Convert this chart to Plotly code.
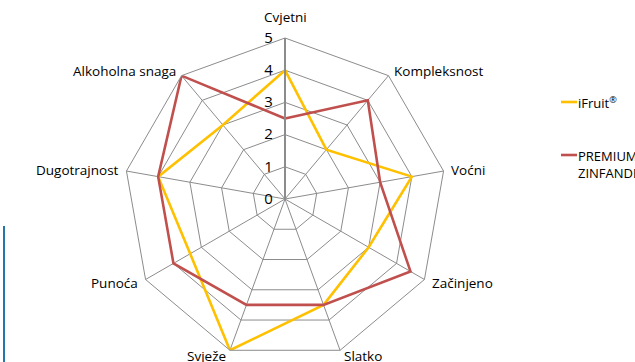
import math
import plotly.graph_objects as go

# Sensory attributes, clockwise from the top
attributes = ["Cvjetni", "Kompleksnost", "Voćni", "Začinjeno", "Slatko",
              "Svježe", "Punoća", "Dugotrajnost", "Alkoholna snaga"]

ifruit = [4, 2, 4, 3, 3.5, 5, 3.4, 4, 3]
premium_zinfandel = [2.5, 4, 3, 4.5, 3.5, 3.5, 4, 4, 5]

series_names = ["iFruit<sup>®</sup>", "PREMIUM<br>ZINFANDEL"]
series_values = [ifruit, premium_zinfandel]
series_colors = ["#FFC000", "#C0504D"]

radial_ticks = [0, 1, 2, 3, 4, 5]

FONT = "Open Sans"
GRID = "#8c8c8c"
W, H = 635, 362

fig = go.Figure()
for name, vals, col in zip(series_names, series_values, series_colors):
    fig.add_trace(go.Scatterpolar(
        r=vals + vals[:1],
        theta=attributes + attributes[:1],
        mode="lines",
        name=name,
        line=dict(color=col, width=2.6),
        showlegend=False,
    ))

# Legend drawn as short line samples with text next to them
legend_y = [102, 155]
for name, col, y in zip(series_names, series_colors, legend_y):
    two_line = "<br>" in name
    fig.add_shape(type="line", xref="paper", yref="paper",
                  x0=561 / W, x1=577 / W,
                  y0=1 - y / H, y1=1 - y / H,
                  line=dict(color=col, width=2.6))
    fig.add_annotation(xref="paper", yref="paper",
                       x=576 / W, y=1 - y / H,
                       xanchor="left", yanchor="top" if two_line else "middle",
                       yshift=10 if two_line else 0,
                       text=name, showarrow=False, align="left",
                       font=dict(family=FONT, size=13, color="#000"))

# Thin blue rule at the lower left edge
fig.add_shape(type="line", xref="paper", yref="paper",
              x0=4 / W, x1=4 / W, y0=0, y1=1 - 226 / H,
              line=dict(color="#2577a8", width=2))

# Polar area: centre and outer radius in pixels
cx, cy, R = 285, 199, 161

# Category labels placed just outside each spoke of the web
n = len(attributes)
for i, lab in enumerate(attributes):
    ang = math.radians(90 - i * 360 / n)
    c, s = math.cos(ang), math.sin(ang)
    top = abs(c) < 0.1
    d = 10 if top else 6
    px = cx + (R + d) * c
    py = cy - (R + d) * s
    fig.add_annotation(xref="paper", yref="paper",
                       x=px / W, y=1 - py / H,
                       xanchor="center" if top else ("left" if c > 0 else "right"),
                       yanchor="bottom" if top else "middle",
                       text=lab, showarrow=False,
                       font=dict(family=FONT, size=13.5, color="#000"))

fig.update_layout(
    width=W, height=H,
    margin=dict(l=0, r=0, t=0, b=0),
    paper_bgcolor="white", plot_bgcolor="white",
    font=dict(family=FONT, size=13, color="#000"),
    polar=dict(
        domain=dict(x=[(cx - R) / W, (cx + R) / W],
                    y=[(H - cy - R) / H, (H - cy + R) / H]),
        bgcolor="white",
        gridshape="linear",
        angularaxis=dict(
            rotation=90, direction="clockwise",
            showline=True, linecolor=GRID, linewidth=1,
            gridcolor=GRID, gridwidth=1,
            ticks="", showticklabels=False,
        ),
        radialaxis=dict(
            range=[0, 5], tickvals=radial_ticks, angle=90, tickangle=90,
            side="counterclockwise",
            showline=True, linecolor=GRID, linewidth=2,
            gridcolor=GRID, gridwidth=1,
            ticks="outside", ticklen=6, tickcolor="rgba(0,0,0,0)",
            tickfont=dict(family=FONT, size=15, color="#000"),
        ),
    ),
)

fig.write_html("out.html")
